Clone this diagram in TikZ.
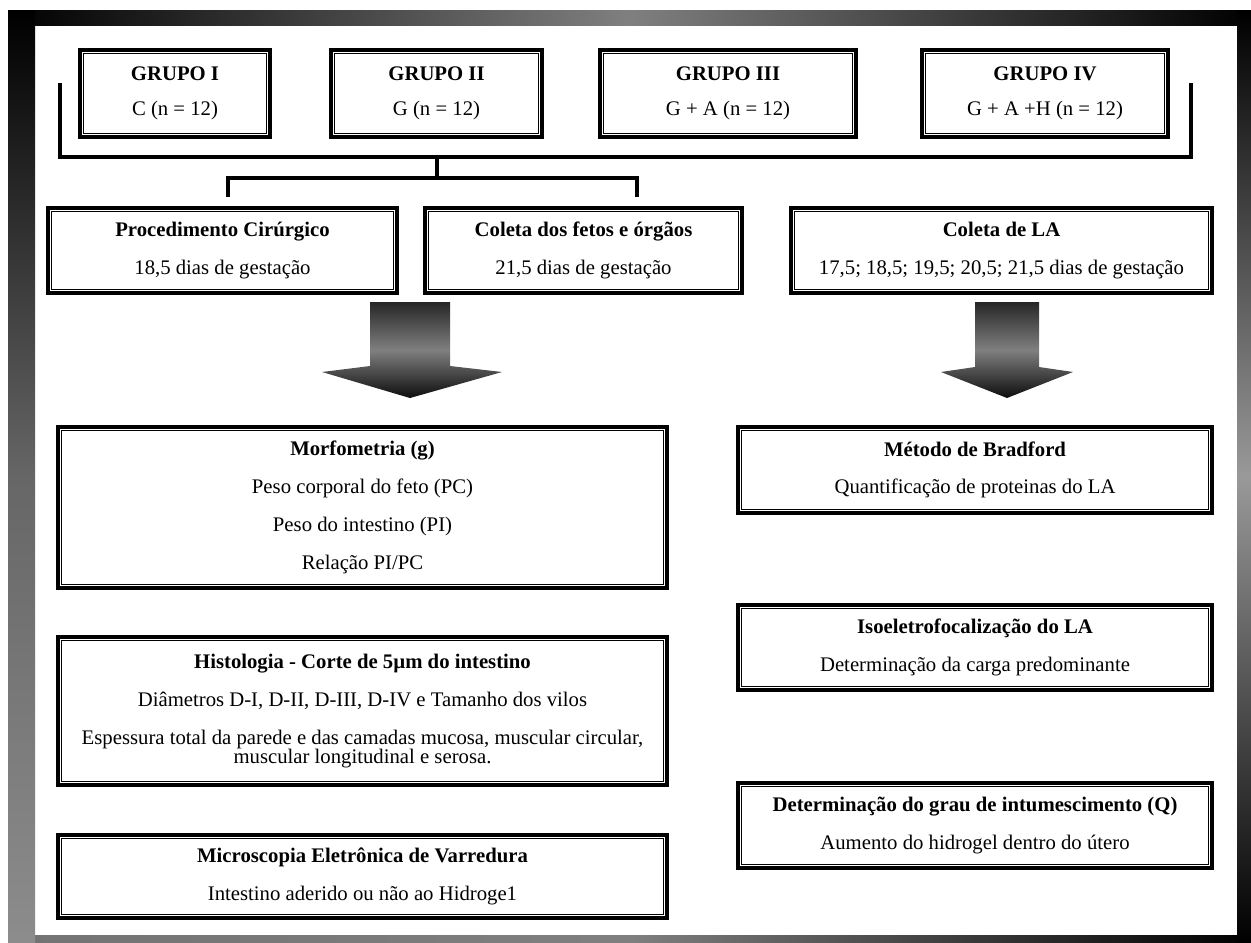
\documentclass[tikz,border=0pt]{standalone}
\usepackage{fontspec}
\setmainfont{Liberation Serif}
\usetikzlibrary{calc}

\begin{document}
\begin{tikzpicture}[x=0.02cm, y=-0.02cm,
  box/.style={rectangle, draw=black, line width=2.4pt, fill=white,
              align=center, inner sep=0pt, minimum height=1.7cm,
              font=\fontsize{11.8}{21.5}\selectfont},
  gbox/.style={box, minimum height=1.74cm, font=\fontsize{11.8}{20}\selectfont},
  thin/.style={line width=0.8pt},
  brk/.style={line width=2.8pt},
  bigarr/.style={top color=black!85, bottom color=black!95, middle color=black!50}
]
\useasboundingbox (0,0) rectangle (1251,943);
\fill[white] (0,0) rectangle (1251,943);

% Frame
\shade[left color=black, right color=black, middle color=black!50]
  (8,10) rectangle (1251,25);
\shade[left color=black!55, right color=black, middle color=black!50]
  (8,935) rectangle (1251,943);
\shade[top color=black, bottom color=black!45, middle color=black!60]
  (8,10) rectangle (35,943);
\shade[top color=black, bottom color=black, middle color=black!40]
  (1237,10) rectangle (1251,943);

% Groups
\node[gbox, minimum width=3.8cm]  (g1) at (175,93.5)
  {\textbf{GRUPO I}\\C (n = 12)};
\node[gbox, minimum width=4.22cm] (g2) at (436.5,93.5)
  {\textbf{GRUPO II}\\G (n = 12)};
\node[gbox, minimum width=5.12cm] (g3) at (728,93.5)
  {\textbf{GRUPO III}\\G + A (n = 12)};
\node[gbox, minimum width=4.92cm] (g4) at (1045,93.5)
  {\textbf{GRUPO IV}\\G + A +H (n = 12)};

% Brackets
\coordinate (brL) at (60,83);
\coordinate (brR) at (1191,83);
\coordinate (stem) at (437,157);
\coordinate (sbL) at (228,197);
\coordinate (sbR) at (637,197);
\draw[brk] (brL) |- (stem) -| (brR);
\draw[brk] (stem) -- ++(0,21) coordinate (sbMid);
\draw[brk] (sbL) |- (sbMid) -| (sbR);

% Procedures
\node[box, minimum width=6.98cm] (p1) at (222.5,250.5)
  {\textbf{Procedimento Cirúrgico}\\18,5 dias de gestação};
\node[box, minimum width=6.34cm] (p2) at (583.5,250.5)
  {\textbf{Coleta dos fetos e órgãos}\\21,5 dias de gestação};
\node[box, minimum width=8.42cm] (p3) at (1001.5,250.5)
  {\textbf{Coleta de LA}\\17,5; 18,5; 19,5; 20,5; 21,5 dias de gestação};

% Big arrows
\shade[bigarr] (370,302) -- (450,302) -- (450,366) -- (502,372) -- (410,398)
  -- (322,372) -- (370,366) -- cycle;
\shade[bigarr] (975,302) -- (1039,302) -- (1039,367) -- (1073,372) -- (1007,398)
  -- (941,372) -- (975,367) -- cycle;

% Left column
\node[box, minimum width=12.18cm, minimum height=3.22cm] (m1) at (362.5,507.5)
  {\textbf{Morfometria (g)}\\Peso corporal do feto (PC)\\Peso do intestino (PI)\\Relação PI/PC};
\node[box, minimum width=12.18cm, minimum height=2.96cm] (m2) at (362.5,711)
  {\textbf{Histologia - Corte de 5µm do intestino}\\
   Diâmetros D-I, D-II, D-III, D-IV e Tamanho dos vilos\\
   Espessura total da parede e das camadas mucosa, muscular circular,\\[-10.5pt]
   muscular longitudinal e serosa.};
\node[box, minimum width=12.18cm, minimum height=1.66cm] (m3) at (362.5,876.5)
  {\textbf{Microscopia Eletrônica de Varredura}\\Intestino aderido ou não ao Hidroge1};

% Right column
\node[box, minimum width=9.48cm, minimum height=1.72cm] (b1) at (975,470)
  {\textbf{Método de Bradford}\\Quantificação de proteinas do LA};
\node[box, minimum width=9.48cm] (b2) at (975,647.5)
  {\textbf{Isoeletrofocalização do LA}\\Determinação da carga predominante};
\node[box, minimum width=9.48cm] (b3) at (975,825.5)
  {\textbf{Determinação do grau de intumescimento (Q)}\\Aumento do hidrogel dentro do útero};

% Inner border lines
\foreach \n in {g1,g2,g3,g4,p1,p2,p3,m1,m2,m3,b1,b2,b3}
  \draw[thin] ($(\n.south west)+(5.5,-5.5)$) rectangle ($(\n.north east)+(-5.5,5.5)$);
\end{tikzpicture}
\end{document}
